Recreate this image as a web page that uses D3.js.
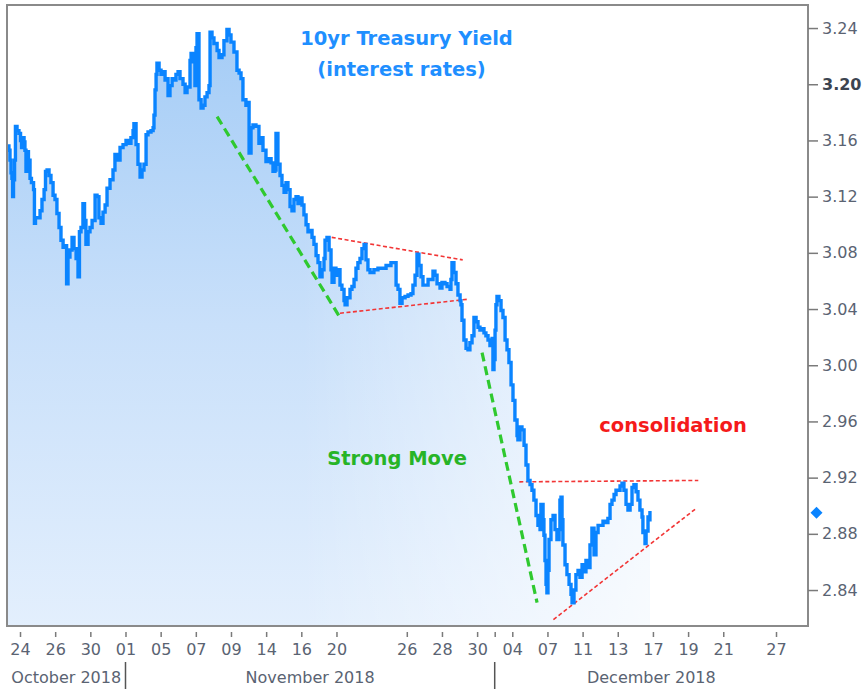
<!DOCTYPE html>
<html><head><meta charset="utf-8">
<script src="https://cdn.jsdelivr.net/npm/d3@7"></script>
<style>body{margin:0;background:#fff}svg{display:block}</style>
</head><body>
<svg id="chart" width="862" height="689"></svg>
<script>
// ---- DATA ----
const tradingDays = ["2018-10-23","2018-10-24","2018-10-25","2018-10-26","2018-10-29","2018-10-30","2018-10-31",
  "2018-11-01","2018-11-02","2018-11-05","2018-11-06","2018-11-07","2018-11-08","2018-11-09","2018-11-13","2018-11-14",
  "2018-11-15","2018-11-16","2018-11-19","2018-11-20","2018-11-21","2018-11-22","2018-11-23","2018-11-26","2018-11-27",
  "2018-11-28","2018-11-29","2018-11-30","2018-12-03","2018-12-04","2018-12-06","2018-12-07","2018-12-10","2018-12-11",
  "2018-12-12","2018-12-13","2018-12-14","2018-12-17","2018-12-18","2018-12-19","2018-12-20","2018-12-21","2018-12-24",
  "2018-12-26","2018-12-27","2018-12-28"];
const labeledDays = ["2018-10-24","2018-10-26","2018-10-30","2018-11-01","2018-11-05","2018-11-07","2018-11-09",
  "2018-11-14","2018-11-16","2018-11-20","2018-11-26","2018-11-28","2018-11-30","2018-12-03","2018-12-04","2018-12-07",
  "2018-12-11","2018-12-13","2018-12-17","2018-12-19","2018-12-21","2018-12-27"];
const unlabeledDays = ["2018-12-03"];
const monthNames = ["October 2018","November 2018","December 2018"];
const monthFirstDays = ["2018-11-01","2018-12-03"];
const yTicks = [2.84,2.88,2.92,2.96,3.00,3.04,3.08,3.12,3.16,3.20,3.24];
const boldTick = 3.20;

// session time = trading-day index (fraction of day), yield in %
const sessionTimes = [0.28,0.37,0.43,0.49,0.54,0.58,0.63,0.69,0.74,0.83,0.94,1.03,1.09,1.14,1.23,1.28,1.34,1.40,1.48,1.57,1.65,1.77,1.82,1.88,2.02,2.14,2.25,2.37,2.45,2.54,2.65,2.76,2.88,2.99,3.10,3.22,3.33,3.45,3.56,3.65,3.73,3.84,3.96,4.07,4.19,4.30,4.38,4.47,4.58,4.67,4.75,4.87,4.98,5.10,5.27,5.38,5.49,5.61,5.72,5.84,5.95,6.12,6.29,6.40,6.52,6.69,6.86,7.03,7.20,7.31,7.43,7.48,7.60,7.71,7.83,7.94,8.05,8.17,8.28,8.45,8.57,8.62,8.68,8.74,8.79,8.91,9.02,9.13,9.25,9.30,9.42,9.53,9.65,9.76,9.87,9.99,10.10,10.27,10.39,10.50,10.67,10.73,10.84,10.95,11.01,11.07,11.18,11.30,11.41,11.52,11.64,11.75,11.81,11.92,12.03,12.21,12.32,12.49,12.60,12.77,12.89,13.00,13.17,13.34,13.46,13.57,13.68,13.85,13.97,14.03,14.14,14.25,14.42,14.59,14.71,14.82,14.99,15.16,15.28,15.39,15.50,15.56,15.67,15.79,15.90,16.02,16.13,16.24,16.36,16.47,16.58,16.70,16.81,16.93,17.04,17.15,17.27,17.38,17.49,17.61,17.72,17.84,17.95,18.06,18.18,18.29,18.35,18.46,18.58,18.69,18.75,18.86,18.97,19.09,19.20,19.31,19.43,19.49,19.60,19.77,19.88,20.00,20.11,20.22,20.34,20.45,20.57,20.68,20.79,20.91,21.13,21.36,21.59,21.82,22.10,22.27,22.39,22.50,22.61,22.73,22.90,23.07,23.24,23.35,23.47,23.58,23.69,23.81,23.92,24.09,24.21,24.38,24.49,24.60,24.72,24.89,25.00,25.17,25.29,25.46,25.51,25.57,25.68,25.80,25.91,26.03,26.08,26.14,26.25,26.37,26.48,26.59,26.71,26.82,26.94,27.05,27.16,27.28,27.39,27.50,27.62,27.73,27.85,27.90,27.96,28.02,28.07,28.13,28.24,28.36,28.47,28.59,28.70,28.81,28.93,29.04,29.15,29.27,29.32,29.44,29.55,29.67,29.78,29.89,30.01,30.12,30.23,30.35,30.46,30.58,30.63,30.75,30.80,30.86,30.92,30.97,31.03,31.09,31.20,31.32,31.43,31.54,31.66,31.71,31.77,31.83,31.88,32.00,32.11,32.23,32.34,32.40,32.51,32.62,32.74,32.85,32.97,33.08,33.19,33.31,33.42,33.53,33.65,33.76,33.88,33.99,34.16,34.33,34.44,34.56,34.67,34.79,34.90,35.01,35.13,35.24,35.35,35.47,35.58,35.70,35.81,35.92,36.04,36.15,36.26,36.38,36.43,36.55,36.61,36.72,36.78,36.83];
const yieldValues = [3.156,3.153,3.146,3.137,3.133,3.120,3.132,3.146,3.170,3.167,3.165,3.160,3.155,3.162,3.159,3.153,3.138,3.152,3.146,3.133,3.130,3.125,3.101,3.105,3.105,3.110,3.118,3.125,3.138,3.139,3.135,3.130,3.121,3.118,3.108,3.098,3.089,3.084,3.085,3.058,3.077,3.082,3.091,3.083,3.076,3.063,3.095,3.098,3.115,3.103,3.086,3.095,3.098,3.103,3.121,3.120,3.105,3.101,3.109,3.114,3.126,3.132,3.139,3.150,3.146,3.155,3.157,3.160,3.158,3.162,3.167,3.172,3.157,3.143,3.134,3.139,3.143,3.164,3.166,3.167,3.169,3.178,3.196,3.207,3.215,3.210,3.207,3.209,3.203,3.204,3.192,3.199,3.204,3.203,3.207,3.209,3.204,3.200,3.194,3.198,3.217,3.222,3.216,3.199,3.226,3.236,3.189,3.183,3.185,3.191,3.194,3.199,3.237,3.233,3.229,3.224,3.219,3.221,3.231,3.239,3.235,3.230,3.223,3.210,3.208,3.204,3.189,3.185,3.187,3.151,3.169,3.171,3.170,3.158,3.162,3.153,3.145,3.147,3.144,3.138,3.139,3.165,3.143,3.135,3.128,3.123,3.130,3.125,3.113,3.110,3.118,3.120,3.115,3.119,3.114,3.107,3.100,3.095,3.096,3.091,3.086,3.078,3.073,3.063,3.068,3.076,3.089,3.091,3.082,3.068,3.059,3.069,3.064,3.068,3.057,3.054,3.046,3.043,3.048,3.054,3.056,3.061,3.069,3.073,3.076,3.083,3.086,3.075,3.068,3.066,3.068,3.069,3.069,3.071,3.073,3.073,3.057,3.054,3.044,3.048,3.049,3.050,3.051,3.057,3.064,3.079,3.071,3.063,3.057,3.057,3.061,3.061,3.067,3.064,3.058,3.055,3.059,3.058,3.056,3.054,3.061,3.073,3.066,3.058,3.050,3.046,3.043,3.032,3.018,3.012,3.011,3.016,3.021,3.034,3.031,3.027,3.025,3.026,3.023,3.021,3.018,3.014,3.019,2.997,3.004,3.025,3.043,3.049,3.046,3.039,3.034,3.018,3.011,3.002,2.986,2.975,2.961,2.950,2.947,2.956,2.954,2.943,2.929,2.918,2.915,2.911,2.904,2.893,2.886,2.883,2.901,2.890,2.879,2.861,2.844,2.838,2.854,2.876,2.890,2.893,2.883,2.876,2.883,2.904,2.906,2.890,2.872,2.858,2.851,2.844,2.837,2.831,2.840,2.851,2.854,2.849,2.858,2.853,2.861,2.856,2.872,2.884,2.865,2.881,2.886,2.886,2.889,2.888,2.891,2.901,2.904,2.908,2.911,2.911,2.914,2.916,2.911,2.901,2.897,2.901,2.913,2.915,2.910,2.904,2.897,2.892,2.881,2.873,2.882,2.892,2.890,2.895];
const lastYield = 2.895;

// annotation lines: [[t0, v0], [t1, v1]]
const strongMoveLines = [[[12.21,3.177],[19.20,3.034]], [[27.28,3.009],[30.41,2.831]]];
const channelLines = [[[18.73,3.091],[26.18,3.075]], [[19.20,3.037],[26.50,3.047]],
                      [[29.40,2.917],[39.58,2.918]], [[31.34,2.819],[39.45,2.898]]];
const titleLines = ["10yr Treasury Yield", "(interest rates)"];
const moveLabel = "Strong Move";
const consLabel = "consolidation";

// ---- CHART ----
const plot = {left: 7, right: 808, top: 5, bottom: 626};
const dayIndex = d => tradingDays.indexOf(d);
const x = d3.scaleLinear().domain([0.26, 45.82]).range([plot.left, plot.right]);
const y = d3.scaleLinear().domain([2.8144, 3.2564]).range([plot.bottom, plot.top]);
const svg = d3.select("#chart");
const defs = svg.append("defs");
defs.append("clipPath").attr("id", "clip").append("rect")
  .attr("x", plot.left).attr("y", plot.top).attr("width", plot.right - plot.left).attr("height", plot.bottom - plot.top);
const gV = defs.append("linearGradient").attr("id", "fillV").attr("gradientUnits", "userSpaceOnUse")
  .attr("x1", 0).attr("x2", 0).attr("y1", plot.top + 20).attr("y2", plot.bottom);
gV.append("stop").attr("offset", 0).attr("stop-color", "#a4ccf6");
gV.append("stop").attr("offset", 0.5).attr("stop-color", "#c9e0fa");
gV.append("stop").attr("offset", 1).attr("stop-color", "#e3effd");
const gH = defs.append("linearGradient").attr("id", "fadeH").attr("gradientUnits", "userSpaceOnUse")
  .attr("x1", x(17)).attr("x2", x(37)).attr("y1", 0).attr("y2", 0);
gH.append("stop").attr("offset", 0).attr("stop-color", "#fff").attr("stop-opacity", 0);
gH.append("stop").attr("offset", 1).attr("stop-color", "#fff").attr("stop-opacity", 0.75);

const data = sessionTimes.map((t, i) => ({t, v: yieldValues[i]}));
const g = svg.append("g").attr("clip-path", "url(#clip)");
const area = d3.area().curve(d3.curveStepAfter).x(d => x(d.t)).y0(plot.bottom).y1(d => y(d.v));
g.append("path").datum(data).attr("d", area).attr("fill", "url(#fillV)");
g.append("path").datum(data).attr("d", area).attr("fill", "url(#fadeH)");

const seg = d3.line().x(d => x(d[0])).y(d => y(d[1]));
g.selectAll(".green").data(strongMoveLines).join("path")
  .attr("d", seg).attr("fill", "none").attr("stroke", "#2fc92f").attr("stroke-width", 3.2)
  .attr("stroke-dasharray", "9,5");
g.selectAll(".red").data(channelLines).join("path")
  .attr("d", seg).attr("fill", "none").attr("stroke", "#f23535").attr("stroke-width", 1.6)
  .attr("stroke-dasharray", "4,2.5");

g.append("path").datum(data)
  .attr("d", d3.line().curve(d3.curveStepAfter).x(d => x(d.t)).y(d => y(d.v)))
  .attr("fill", "none").attr("stroke", "#0a84ff").attr("stroke-width", 3.4)
  .attr("stroke-linejoin", "miter").attr("stroke-linecap", "square");

// frame
svg.append("rect").attr("x", plot.left).attr("y", plot.top)
  .attr("width", plot.right - plot.left).attr("height", plot.bottom - plot.top)
  .attr("fill", "none").attr("stroke", "#8a8a8a").attr("stroke-width", 2);

const axisFont = "'DejaVu Sans', Verdana, sans-serif";
const labelColor = "#5a6372";

// right axis
const ya = svg.append("g").attr("transform", `translate(${plot.right},0)`)
  .call(d3.axisRight(y).tickValues(yTicks).tickSize(10).tickPadding(4).tickFormat(d3.format(".2f")));
ya.select(".domain").remove();
ya.selectAll(".tick line").attr("stroke", "#7a7a7a").attr("stroke-width", 1.5);
ya.selectAll(".tick text").attr("font-family", axisFont).attr("font-size", 16)
  .attr("fill", d => d === boldTick ? "#3c4450" : labelColor)
  .attr("font-weight", d => d === boldTick ? "bold" : "normal");

// last value marker
svg.append("path").attr("d", d3.symbol(d3.symbolSquare, 72)())
  .attr("transform", `translate(${plot.right + 8.5},${y(lastYield)}) rotate(45)`).attr("fill", "#0a84ff");

// bottom axis
const tickIdx = labeledDays.map(dayIndex);
const xa = svg.append("g").attr("transform", `translate(0,${plot.bottom + 6})`)
  .call(d3.axisBottom(x).tickValues(tickIdx).tickSize(5).tickPadding(0)
    .tickFormat(i => unlabeledDays.includes(tradingDays[i]) ? "" : tradingDays[i].slice(8)));
xa.select(".domain").remove();
xa.selectAll(".tick line").attr("stroke", "#7a7a7a").attr("stroke-width", 1.5);
xa.selectAll(".tick text").attr("font-family", axisFont).attr("font-size", 16).attr("fill", labelColor)
  .attr("y", 12).attr("dy", "0.71em");

// month separators and labels
const bounds = [0.26, ...monthFirstDays.map(dayIndex), 45.82];
svg.selectAll(".msep").data(monthFirstDays).join("line")
  .attr("x1", d => x(dayIndex(d))).attr("x2", d => x(dayIndex(d)))
  .attr("y1", 662).attr("y2", 689).attr("stroke", "#555").attr("stroke-width", 1.5);
svg.selectAll(".mlab").data(monthNames).join("text")
  .attr("x", (d, i) => (x(bounds[i]) + x(bounds[i + 1])) / 2).attr("y", 683)
  .attr("text-anchor", "middle").attr("font-family", axisFont).attr("font-size", 16).attr("fill", labelColor)
  .text(d => d);

// annotations
const annFont = "'DejaVu Sans', Verdana, sans-serif";
svg.append("text").attr("x", 406.5).attr("y", 45).attr("text-anchor", "middle")
  .attr("font-family", annFont).attr("font-weight", "bold").attr("font-size", 19.5).attr("fill", "#1f8fff").text(titleLines[0]);
svg.append("text").attr("x", 401.5).attr("y", 76).attr("text-anchor", "middle")
  .attr("font-family", annFont).attr("font-weight", "bold").attr("font-size", 19.5).attr("fill", "#1f8fff").text(titleLines[1]);
svg.append("text").attr("x", 397).attr("y", 465).attr("text-anchor", "middle")
  .attr("font-family", annFont).attr("font-weight", "bold").attr("font-size", 19.5).attr("fill", "#27b427").text(moveLabel);
svg.append("text").attr("x", 673).attr("y", 432).attr("text-anchor", "middle")
  .attr("font-family", annFont).attr("font-weight", "bold").attr("font-size", 19.5).attr("fill", "#f51a1a").text(consLabel);
</script>
</body></html>
